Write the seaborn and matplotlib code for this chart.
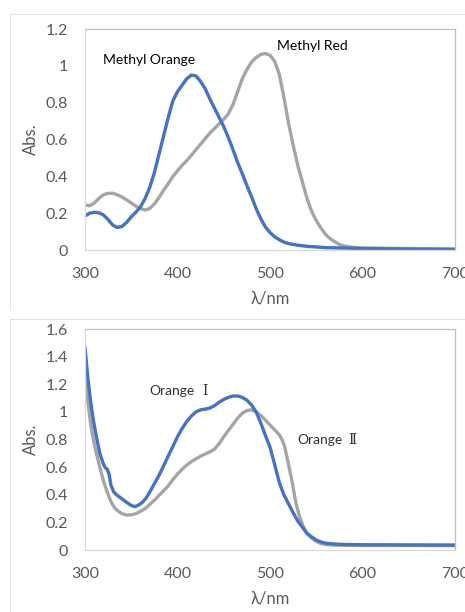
import numpy as np
import pandas as pd
import matplotlib
matplotlib.use("Agg")
import matplotlib.pyplot as plt
from matplotlib.lines import Line2D
from matplotlib.ticker import FuncFormatter
import seaborn as sns

# top panel: Methyl Orange / Methyl Red
mo_wl = [300, 305, 310, 315, 320, 325, 330, 335, 340, 345, 350, 355, 360, 365, 370, 375,
         380, 385, 390, 395, 400, 405, 410, 415, 420, 425, 430, 435, 440, 445, 450, 455,
         460, 465, 470, 475, 480, 485, 490, 495, 500, 505, 510, 515, 520, 530, 540, 560,
         600, 650, 700]
mo_abs = [0.185, 0.200, 0.205, 0.202, 0.190, 0.165, 0.135, 0.122, 0.128, 0.150, 0.180, 0.205,
          0.235, 0.280, 0.340, 0.420, 0.520, 0.620, 0.720, 0.810, 0.860, 0.895, 0.930, 0.950,
          0.945, 0.915, 0.875, 0.820, 0.770, 0.720, 0.670, 0.610, 0.545, 0.475, 0.415, 0.350,
          0.290, 0.225, 0.170, 0.125, 0.095, 0.072, 0.056, 0.043, 0.035, 0.026, 0.020, 0.013,
          0.008, 0.005, 0.003]

mr_wl = [300, 305, 310, 315, 320, 325, 330, 335, 340, 345, 350, 355, 360, 365, 370, 375,
         380, 385, 390, 395, 400, 405, 410, 415, 420, 425, 430, 435, 440, 445, 450, 455,
         460, 465, 470, 475, 480, 485, 490, 495, 500, 505, 510, 515, 520, 525, 530, 535,
         540, 545, 550, 555, 560, 565, 570, 575, 580, 590, 600, 650, 700]
mr_abs = [0.245, 0.240, 0.255, 0.280, 0.300, 0.308, 0.308, 0.300, 0.288, 0.272, 0.255, 0.238,
          0.225, 0.217, 0.225, 0.250, 0.285, 0.325, 0.360, 0.400, 0.430, 0.460, 0.485, 0.515,
          0.545, 0.575, 0.605, 0.635, 0.660, 0.685, 0.710, 0.740, 0.790, 0.860, 0.930, 0.980,
          1.020, 1.045, 1.062, 1.067, 1.058, 1.025, 0.955, 0.830, 0.690, 0.570, 0.460, 0.370,
          0.280, 0.210, 0.160, 0.120, 0.085, 0.062, 0.045, 0.030, 0.022, 0.014, 0.011, 0.008,
          0.006]

# bottom panel: Orange I / Orange II
o1_wl = [300, 303, 306, 309, 312, 316, 320, 322, 324, 326, 328, 331, 335, 340, 345, 350,
         354, 358, 362, 366, 370, 375, 380, 385, 390, 395, 400, 405, 410, 415, 420, 425,
         430, 435, 440, 445, 450, 455, 460, 465, 470, 475, 480, 485, 490, 495, 500, 505,
         510, 515, 520, 525, 530, 535, 540, 545, 550, 555, 560, 570, 580, 600, 700]
o1_abs = [1.47, 1.25, 1.08, 0.94, 0.83, 0.70, 0.62, 0.595, 0.585, 0.55, 0.47, 0.42, 0.395,
          0.37, 0.345, 0.322, 0.314, 0.325, 0.345, 0.375, 0.42, 0.48, 0.54, 0.61, 0.68, 0.75,
          0.82, 0.88, 0.93, 0.97, 1.0, 1.015, 1.02, 1.028, 1.045, 1.07, 1.09, 1.105, 1.115,
          1.115, 1.105, 1.085, 1.05, 1.0, 0.92, 0.83, 0.745, 0.62, 0.49, 0.40, 0.335, 0.27,
          0.21, 0.165, 0.12, 0.095, 0.072, 0.058, 0.05, 0.043, 0.04, 0.038, 0.036]

o2_wl = [300, 303, 306, 309, 312, 316, 320, 324, 328, 332, 336, 340, 345, 350, 355, 360,
         365, 370, 375, 380, 385, 390, 395, 400, 405, 410, 415, 420, 425, 430, 435, 440,
         445, 450, 455, 460, 465, 470, 475, 480, 485, 490, 495, 500, 505, 510, 513, 516,
         520, 524, 528, 532, 536, 540, 545, 550, 555, 560, 570, 600, 700]
o2_abs = [1.23, 1.08, 0.92, 0.80, 0.71, 0.60, 0.50, 0.42, 0.35, 0.305, 0.28, 0.263, 0.253,
          0.255, 0.263, 0.28, 0.30, 0.33, 0.36, 0.395, 0.43, 0.465, 0.51, 0.55, 0.585, 0.615,
          0.64, 0.66, 0.68, 0.695, 0.71, 0.73, 0.77, 0.82, 0.865, 0.91, 0.955, 0.99, 1.01,
          1.015, 1.0, 0.975, 0.94, 0.905, 0.87, 0.835, 0.80, 0.745, 0.62, 0.49, 0.34, 0.24,
          0.17, 0.12, 0.085, 0.062, 0.047, 0.04, 0.035, 0.033, 0.032]

x_ticks = [300, 400, 500, 600, 700]
top_yticks = [0, 0.2, 0.4, 0.6, 0.8, 1.0, 1.2]
bot_yticks = [0, 0.2, 0.4, 0.6, 0.8, 1.0, 1.2, 1.4, 1.6]

BLUE = "#4472C4"
GRAY = "#A5A5A5"
TXT = "#595959"

sns.set_style("white")
plt.rcParams['font.family'] = ['Lato', 'Noto Sans CJK JP', 'DejaVu Sans']

fig = plt.figure(figsize=(4.65, 6.12), dpi=100)
ax1 = fig.add_axes([0.1828, 0.5915, 0.7957, 0.3611])
ax2 = fig.add_axes([0.1828, 0.1013, 0.7957, 0.3611])

# faint panel frames
fc = "#E3E3E3"
fig.add_artist(Line2D([10/465, 1], [1-14/612, 1-14/612], color=fc, lw=0.8))
fig.add_artist(Line2D([10/465, 10/465], [1-14/612, 1-310/612], color=fc, lw=0.8))
fig.add_artist(Line2D([10/465, 1], [1-319/612, 1-319/612], color=fc, lw=0.8))
fig.add_artist(Line2D([10/465, 10/465], [1-319/612, 0], color=fc, lw=0.8))

top_a = pd.DataFrame({"wl": mo_wl, "abs": mo_abs})
top_b = pd.DataFrame({"wl": mr_wl, "abs": mr_abs})
bot_a = pd.DataFrame({"wl": o1_wl, "abs": o1_abs})
bot_b = pd.DataFrame({"wl": o2_wl, "abs": o2_abs})

sns.lineplot(data=top_b, x="wl", y="abs", ax=ax1, color=GRAY, lw=2.4, sort=False,
             estimator=None, solid_capstyle="round")
sns.lineplot(data=top_a, x="wl", y="abs", ax=ax1, color=BLUE, lw=2.4, sort=False,
             estimator=None, solid_capstyle="round")
sns.lineplot(data=bot_b, x="wl", y="abs", ax=ax2, color=GRAY, lw=2.4, sort=False,
             estimator=None, solid_capstyle="round")
sns.lineplot(data=bot_a, x="wl", y="abs", ax=ax2, color=BLUE, lw=2.4, sort=False,
             estimator=None, solid_capstyle="round")

fmt = FuncFormatter(lambda v, p: "%g" % round(v, 1))
for ax, yt in [(ax1, top_yticks), (ax2, bot_yticks)]:
    ax.set_xlim(300, 700)
    ax.set_ylim(0, yt[-1])
    ax.set_xticks(x_ticks)
    ax.set_yticks(yt)
    ax.yaxis.set_major_formatter(fmt)
    ax.tick_params(axis="both", direction="in", length=5, width=0.8, color="#D9D9D9",
                   labelcolor=TXT, labelsize=11.5, pad=12)
    for s in ["left", "bottom"]:
        ax.spines[s].set_color("#D9D9D9")
        ax.spines[s].set_linewidth(0.9)
    for s in ["top", "right"]:
        ax.spines[s].set_color("#BFBFBF")
        ax.spines[s].set_linewidth(0.9)
    ax.set_xlabel("λ/nm", color=TXT, fontsize=12)
    ax.set_ylabel("Abs.", color=TXT, fontsize=12)
    ax.xaxis.set_label_coords(0.5, -0.185)
    ax.yaxis.set_label_coords(-0.125, 0.5)

ax1.text(319, 1.03, "Methyl Orange", fontsize=10, color="black", va="center")
ax1.text(508, 1.11, "Methyl Red", fontsize=10, color="black", va="center")
ax2.text(370, 1.153, "Orange", fontsize=10, color="#333333", va="center")
ax2.text(370 + 53 / 0.925, 1.153, "Ⅰ", fontsize=10, color="#333333", va="center",
         family=['DejaVu Serif'])
ax2.text(530, 0.797, "Orange", fontsize=10, color="#333333", va="center")
ax2.text(530 + 51 / 0.925, 0.797, "Ⅱ", fontsize=10, color="#333333", va="center",
         family=['DejaVu Serif'])

fig.savefig("out.png", dpi=100)
